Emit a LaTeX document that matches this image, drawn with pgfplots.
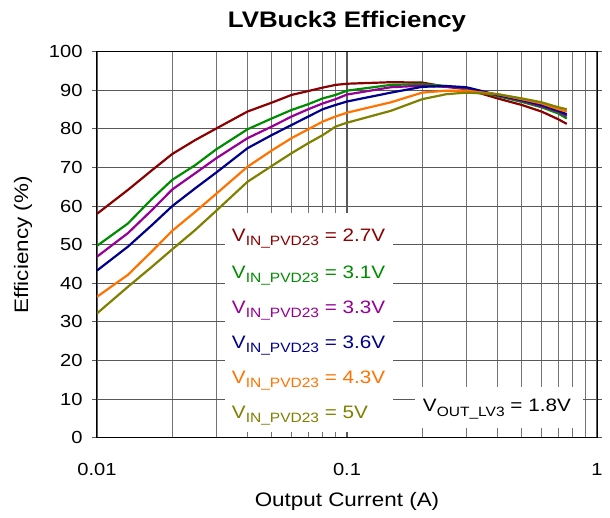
\documentclass[border=0pt]{standalone}
\usepackage{fontspec}
\setmainfont{Liberation Sans}[FakeStretch=1.15]
\usepackage{pgfplots}
\pgfplotsset{compat=1.18}
\definecolor{cRed}{RGB}{139,0,0}
\definecolor{cGreen}{RGB}{0,140,0}
\definecolor{cPurple}{RGB}{150,0,150}
\definecolor{cBlue}{RGB}{0,0,140}
\definecolor{cOrange}{RGB}{255,115,0}
\definecolor{cOlive}{RGB}{128,128,0}

% x = output current (A); columns = VIN_PVD23 2.7/3.1/3.3/3.6/4.3/5 V
\pgfplotstableread{
x      a    b    c    d    e    f
0.01   58.0 49.7 46.9 43.3 36.5 32.2
0.0133 64.2 55.5 53.0 49.5 42.2 39.1
0.0166 69.3 61.9 59.0 55.1 48.3 44.3
0.02   73.5 66.8 64.3 60.0 53.6 48.8
0.0247 77.1 70.6 68.5 64.6 58.5 53.8
0.03   80.1 74.7 72.4 68.7 63.2 58.8
0.04   84.5 79.9 77.6 75.0 70.2 66.3
0.05   86.8 82.7 80.6 78.4 74.4 70.4
0.06   88.8 84.9 83.2 81.0 77.6 73.7
0.07   89.8 86.4 85.1 83.2 79.9 76.3
0.08   90.7 87.9 86.6 85.1 81.9 78.4
0.09   91.4 88.8 87.7 86.2 83.2 80.6
0.1    91.7 89.9 88.9 87.1 84.2 81.6
0.15   92.1 91.4 90.8 89.4 86.9 84.7
0.2    92.0 91.6 91.2 90.9 89.4 87.7
0.25   90.9 91.1 90.9 91.1 89.9 89.0
0.3    90.3 90.4 90.6 90.8 89.9 89.4
0.4    87.9 88.5 88.7 88.8 89.0 89.0
0.5    86.2 87.0 87.3 87.5 87.7 87.9
0.6    84.5 85.6 85.9 86.2 86.6 86.9
0.7    82.5 84.0 84.5 84.7 85.1 85.6
0.757  81.3 82.7 83.3 83.8 84.5 85.1
}\eff

\newcommand{\sub}[1]{\raisebox{-4.3bp}{\fontsize{13.5bp}{14bp}\selectfont #1}}
\newcommand{\vin}[1]{V\sub{IN\_PVD23} = #1}

\begin{document}
\begin{tikzpicture}
\useasboundingbox (0,0) rectangle (610bp,518bp);
\begin{axis}[
  width=500bp, height=386bp, scale only axis,
  at={(97bp,80.3bp)}, anchor=south west,
  xmode=log, xmin=0.01, xmax=1, ymin=0, ymax=100,
  xtick={0.01,0.1,1}, xticklabels={0.01,0.1,1},
  ytick={0,10,...,100},
  xmajorgrids, xminorgrids, ymajorgrids,
  major grid style={black!65, line width=1.1bp},
  minor grid style={black!55, line width=1.1bp},
  axis line style={black, line width=1bp},
  tick align=outside, major tick length=5bp, minor tick length=0pt,
  xtick style={draw=none},
  ytick style={black!65, line width=1.1bp},
  ticklabel style={font=\fontsize{17.5bp}{18bp}\selectfont},
  /pgf/number format/assume math mode=true,
  xticklabel style={yshift=-17bp},
  yticklabel style={xshift=-6bp},
  label style={font=\fontsize{19.5bp}{20bp}\selectfont},
  xlabel={Output Current (A)},
  ylabel={Efficiency (\%)},
  xlabel style={at={(axis description cs:0.5,-0.164)}, anchor=center},
  ylabel style={at={(axis description cs:-0.148,0.5)}, anchor=center},
  title={LVBuck3 Efficiency},
  title style={at={(axis description cs:0.5,1.061)}, anchor=center,
    font=\bfseries\fontsize{22.5bp}{23bp}\selectfont},
  every axis plot/.append style={line width=2.2bp, no markers},
]
\addplot[cRed]    table[x=x,y=a] {\eff};
\addplot[cGreen]  table[x=x,y=b] {\eff};
\addplot[cPurple] table[x=x,y=c] {\eff};
\addplot[cBlue]   table[x=x,y=d] {\eff};
\addplot[cOrange] table[x=x,y=e] {\eff};
\addplot[cOlive]  table[x=x,y=f] {\eff};

\fill[white] (axis cs:0.0325,1.5) rectangle (axis cs:0.153,58.2);
\fill[white] (axis cs:0.187,2.5) rectangle (axis cs:0.88,13.1);
\begin{scope}[every node/.style={anchor=base west, inner sep=0pt,
    font=\fontsize{18bp}{19bp}\selectfont}]
\node[text=cRed]    at (axis cs:0.0346,50.8) {\vin{2.7V}};
\node[text=cGreen]  at (axis cs:0.0346,41.3) {\vin{3.1V}};
\node[text=cPurple] at (axis cs:0.0346,32.2) {\vin{3.3V}};
\node[text=cBlue]   at (axis cs:0.0346,23.2) {\vin{3.6V}};
\node[text=cOrange] at (axis cs:0.0346,14.1) {\vin{4.3V}};
\node[text=cOlive]  at (axis cs:0.0346,5.0)  {\vin{5V}};
\node[text=black]   at (axis cs:0.201,6.7)   {V\sub{OUT\_LV3} = 1.8V};
\end{scope}
\end{axis}
\end{tikzpicture}
\end{document}
